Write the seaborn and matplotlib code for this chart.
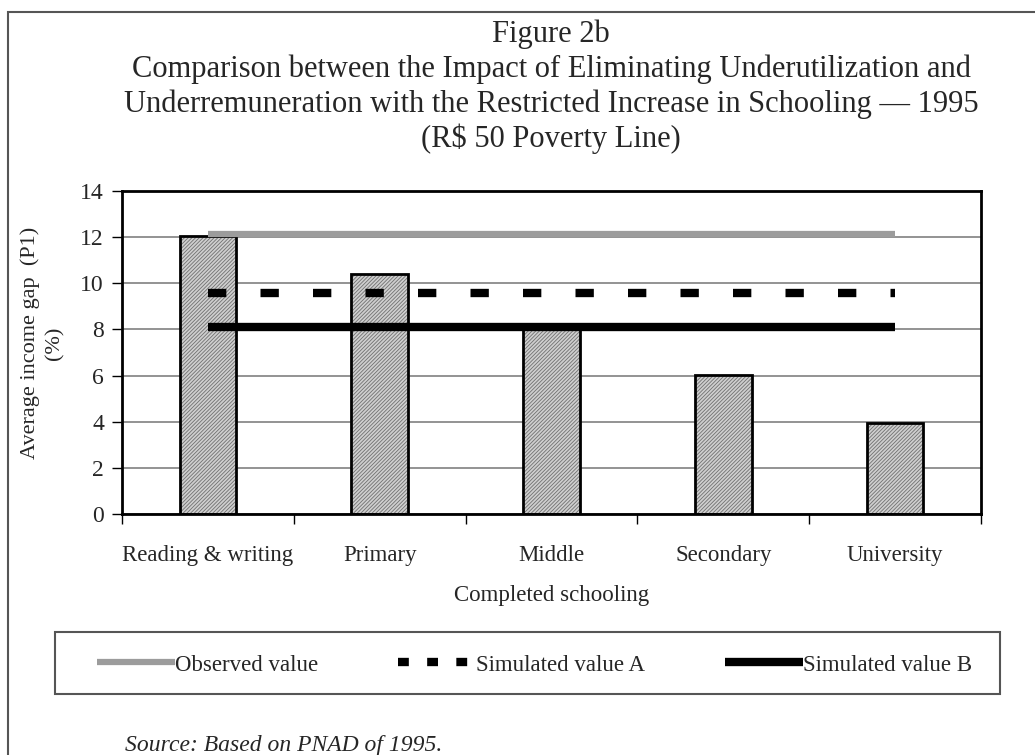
import numpy as np
import pandas as pd
import matplotlib
matplotlib.use("Agg")
import matplotlib.pyplot as plt
from matplotlib.patches import Rectangle
from matplotlib.lines import Line2D
import seaborn as sns

categories = ["Reading & writing", "Primary", "Middle", "Secondary", "University"]
bar_values = [12.05, 10.4, 8.22, 6.03, 3.94]
observed = [12.15, 12.15, 12.15, 12.15, 12.15]
simulated_a = [9.6, 9.6, 9.6, 9.6, 9.6]
simulated_b = [8.1, 8.1, 8.1, 8.1, 8.1]
y_ticks = [0, 2, 4, 6, 8, 10, 12, 14]
title_lines = [
    "Figure 2b",
    "Comparison between the Impact of Eliminating Underutilization and",
    "Underremuneration with the Restricted Increase in Schooling \u2014 1995",
    "(R$ 50 Poverty Line)",
]
legend_labels = ["Observed value", "Simulated value A", "Simulated value B"]

sns.set_theme(style="white")
plt.rcParams['font.family'] = ['Liberation Serif', 'DejaVu Serif']
plt.rcParams['hatch.linewidth'] = 0.6

W, H = 1035, 755
fig = plt.figure(figsize=(W / 100, H / 100), dpi=100)
fig.patch.set_facecolor("white")
ax = fig.add_axes([122 / W, 1 - 514 / H, (981 - 122) / W, (514 - 191) / H])

df = pd.DataFrame({"cat": categories, "val": bar_values})
sns.barplot(data=df, x="cat", y="val", ax=ax, color="#cfcfcf", width=0.33,
            edgecolor="#707070", linewidth=0, hatch="/////////", zorder=2)
sns.barplot(data=df, x="cat", y="val", ax=ax, fill=False, width=0.33,
            edgecolor="black", linewidth=2, zorder=3)

xpos = np.arange(len(categories))
sns.lineplot(x=xpos, y=observed, ax=ax, color="#9c9c9c", linewidth=4.5,
             solid_capstyle="butt", zorder=4)
sns.lineplot(x=xpos, y=simulated_a, ax=ax, color="black", linewidth=6,
             dashes=False, zorder=4)
ax.lines[-1].set_dashes([2.2, 4.1])
ax.lines[-1].set_dash_capstyle("butt")
sns.lineplot(x=xpos, y=simulated_b, ax=ax, color="black", linewidth=6,
             solid_capstyle="butt", zorder=4)

ax.set_xlim(-0.5, 4.5)
ax.set_ylim(0, 14)
ax.set_yticks(y_ticks)
ax.set_yticklabels([str(t) for t in y_ticks], fontsize=17)
ax.set_xticks(np.arange(-0.5, 5, 1.0))
ax.set_xticklabels([])
ax.set_xticks(xpos, minor=True)
ax.set_xticklabels(categories, minor=True, fontsize=16.5)
ax.tick_params(axis="x", which="major", length=7, width=1, color="black", direction="out", bottom=True)
ax.tick_params(axis="x", which="minor", length=0, pad=22, bottom=True)
ax.tick_params(axis="y", length=7, width=1, color="black", direction="out", left=True, pad=6)
ax.yaxis.grid(True, color="#808080", linewidth=1.2, zorder=0)
ax.xaxis.grid(False)
ax.set_axisbelow(True)
for s in ax.spines.values():
    s.set_visible(True)
    s.set_color("black")
    s.set_linewidth(2)
ax.set_xlabel("Completed schooling", fontsize=16.5, labelpad=14)
ax.set_ylabel("Average income gap  (P1)\n(%)", fontsize=16, linespacing=1.3)
ax.yaxis.set_label_coords(-0.0675, 0.529)

baselines = [42, 77, 112, 147]
for line, yb in zip(title_lines, baselines):
    fig.text(551 / W, 1 - yb / H, line, ha="center", va="baseline", fontsize=22)

# figure border
fig.add_artist(Rectangle((8 / W, -0.1), 1.2, 1.1 - 12 / H, transform=fig.transFigure,
                         fill=False, edgecolor="#555555", linewidth=1.5))

# legend frame
fig.add_artist(Rectangle((55 / W, 1 - 694 / H), (1000 - 55) / W, (694 - 632) / H,
                         transform=fig.transFigure, fill=False,
                         edgecolor="#555555", linewidth=1.5))
handles = [
    Line2D([], [], color="#9c9c9c", linewidth=4.5, solid_capstyle="butt"),
    Line2D([], [], color="black", linewidth=6, dashes=[1.3, 2.2], dash_capstyle="butt"),
    Line2D([], [], color="black", linewidth=6, solid_capstyle="butt"),
]
leg = fig.legend(handles, legend_labels,
                 loc="center left", bbox_to_anchor=(97 / W, 1 - 665 / H),
                 ncol=3, fontsize=16.5, frameon=False,
                 handlelength=3.4, handletextpad=0.0, borderpad=0.0, borderaxespad=0,
                 columnspacing=3.5)

fig.text(125 / W, 1 - 751 / H, "Source: Based on PNAD of 1995.", fontsize=17,
         style="italic", ha="left", va="baseline")

fig.savefig("out.png", dpi=100, facecolor="white")
